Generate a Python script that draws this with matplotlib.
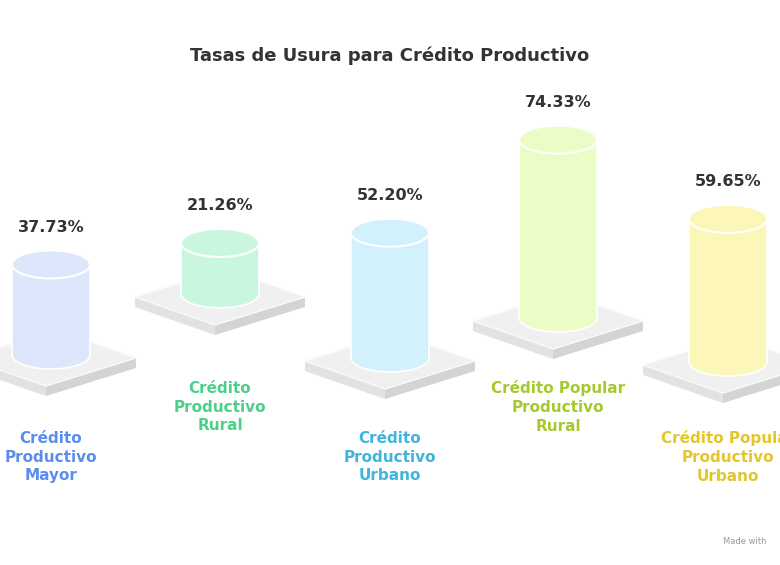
import matplotlib
matplotlib.use("Agg")
import matplotlib.pyplot as plt
from matplotlib.patches import Ellipse, Polygon, Rectangle

categories = ["Crédito\nProductivo\nMayor", "Crédito\nProductivo\nRural", "Crédito\nProductivo\nUrbano",
              "Crédito Popular\nProductivo\nRural", "Crédito Popular\nProductivo\nUrbano"]
values = [37.73, 21.26, 52.20, 74.33, 59.65]
fills = ["#dde7fb", "#c9f6df", "#d3f1fc", "#ecfcc6", "#fcf7b8"]
label_colors = ["#5b8def", "#4ccf8a", "#3fb4dc", "#a6c92e", "#e3c72a"]

xc = [51, 220, 390, 558, 728]
base_y = [355, 294, 358, 318, 362]
label_y = [457, 407, 457, 407, 457]
scale = 2.4
rx, ry = 39, 14

fig = plt.figure(figsize=(7.8, 5.65), dpi=100)
ax = fig.add_axes([0, 0, 1, 1])
ax.set_xlim(0, 780); ax.set_ylim(565, 0); ax.axis("off")
fnt = "DejaVu Sans"

ax.text(390, 56, "Tasas de Usura para Crédito Productivo", ha="center", va="center",
        fontsize=13, fontweight="bold", color="#333333", family=fnt)

for i, v in enumerate(values):
    x, yb = xc[i], base_y[i]
    pc = yb + 3
    hw, hh, t = 85, 28, 10
    L, T, R, B = (x - hw, pc), (x + 5, pc - hh), (x + hw, pc), (x - 5, pc + hh)
    ax.add_patch(Polygon([L, B, (B[0], B[1] + t), (L[0], L[1] + t)], closed=True,
                         fc="#e2e2e2", ec="none", zorder=1))
    ax.add_patch(Polygon([B, R, (R[0], R[1] + t), (B[0], B[1] + t)], closed=True,
                         fc="#d4d4d4", ec="none", zorder=1))
    ax.add_patch(Polygon([L, T, R, B], closed=True, fc="#f0f0f0", ec="#fafafa", lw=1, zorder=1))
    h = v * scale
    ytop = yb - h
    ax.add_patch(Ellipse((x, yb), 2 * rx, 2 * ry, fc=fills[i], ec="white", lw=1.2, zorder=2))
    ax.add_patch(Rectangle((x - rx, ytop), 2 * rx, h, fc=fills[i], ec="none", zorder=3))
    ax.plot([x - rx, x - rx], [ytop, yb], color="white", lw=1.2, zorder=3)
    ax.plot([x + rx, x + rx], [ytop, yb], color="white", lw=1.2, zorder=3)
    ax.add_patch(Ellipse((x, ytop), 2 * rx, 2 * ry, fc=fills[i], ec="white", lw=1.5, zorder=4))
    ax.text(x, ytop - 37, f"{v:.2f}%", ha="center", va="center", fontsize=11.5,
            fontweight="bold", color="#333333", family=fnt)
    ax.text(x, label_y[i], categories[i], ha="center", va="center", fontsize=11,
            fontweight="bold", color=label_colors[i], family=fnt, linespacing=1.3)

ax.text(745, 542, "Made with", ha="center", va="center", fontsize=6, color="#999999", family=fnt)
fig.savefig("out.png", dpi=100)
